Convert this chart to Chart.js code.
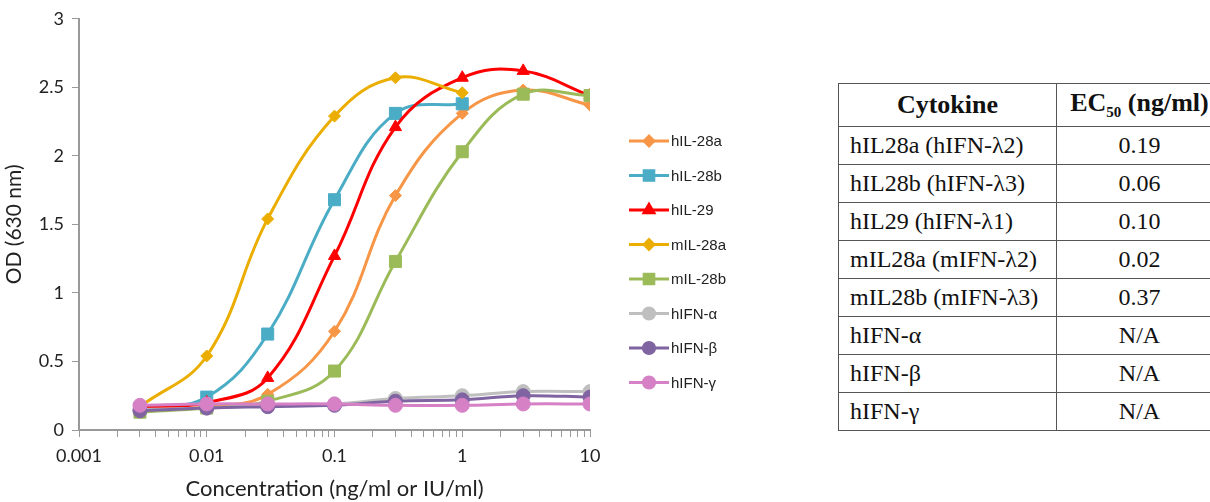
<!DOCTYPE html>
<html>
<head>
<meta charset="utf-8">
<script src="https://cdn.jsdelivr.net/npm/chart.js@4/dist/chart.umd.min.js"></script>
<style>
  html, body { margin: 0; padding: 0; background: #fff; overflow: hidden; }
  #wrap { position: relative; width: 1210px; height: 502px; overflow: hidden; }
  #chartBox { position: absolute; left: 0; top: 0; width: 780px; height: 502px; }
  #tabla { position: absolute; left: 838px; top: 83px; border-collapse: collapse;
           table-layout: fixed; width: 384px;
           font-family: "Liberation Serif", "Times New Roman", serif; color: #111; }
  #tabla td, #tabla th { border: 1px solid #555; height: 38px; padding: 0; box-sizing: border-box; white-space: nowrap; }
  #tabla th { height: 43px; font-size: 26px; font-weight: bold; text-align: center; }
  #tabla td { font-size: 24px; }
  #tabla td.nombre { padding-left: 11px; text-align: left; }
  #tabla td.valor { text-align: center; }
  #tabla sub { font-size: 15px; }
</style>
</head>
<body>
<div id="wrap">
  <div id="chartBox"><canvas id="graficoOD"></canvas></div>
  <table id="tabla"></table>
</div>
<script>
// Datos
const concentraciones = [0.003, 0.01, 0.03, 0.1, 0.3, 1, 3, 10];
const xDecadas = [0.001, 0.01, 0.1, 1, 10];
const etiquetasX = ['0.001', '0.01', '0.1', '1', '10'];

const nombresSeries = ['hIL-28a', 'hIL-28b', 'hIL-29', 'mIL-28a', 'mIL-28b', 'hIFN-α', 'hIFN-β', 'hIFN-γ'];
const hIL28a = [0.15, 0.17, 0.26, 0.72, 1.71, 2.31, 2.48, 2.37];
const hIL28b = [0.16, 0.24, 0.70, 1.68, 2.31, 2.38];
const hIL29  = [0.16, 0.20, 0.38, 1.27, 2.21, 2.57, 2.62, 2.44];
const mIL28a = [0.17, 0.54, 1.54, 2.29, 2.57, 2.46];
const mIL28b = [0.13, 0.16, 0.21, 0.43, 1.23, 2.03, 2.45, 2.44];
const hIFNa  = [0.15, 0.16, 0.18, 0.19, 0.23, 0.25, 0.28, 0.28];
const hIFNb  = [0.14, 0.16, 0.17, 0.18, 0.21, 0.22, 0.25, 0.24];
const hIFNg  = [0.18, 0.19, 0.19, 0.19, 0.18, 0.18, 0.19, 0.19];

// Tabla EC50
const citoquinas = ['hIL28a (hIFN-λ2)', 'hIL28b (hIFN-λ3)', 'hIL29 (hIFN-λ1)', 'mIL28a (mIFN-λ2)',
                    'mIL28b (mIFN-λ3)', 'hIFN-α', 'hIFN-β', 'hIFN-γ'];
const ec50 = ['0.19', '0.06', '0.10', '0.02', '0.37', 'N/A', 'N/A', 'N/A'];

// Estilos por serie
const colores = ['#F79646', '#4BACC6', '#FF0000', '#EBAE00', '#9BBB59', '#BFBFBF', '#8064A2', '#D680C6'];
const marcadores = ['rectRot', 'rect', 'triangle', 'rectRot', 'rect', 'circle', 'circle', 'circle'];
const radios = [6, 8.5, 7, 6, 8.5, 7, 7, 7];
const valoresSeries = [hIL28a, hIL28b, hIL29, mIL28a, mIL28b, hIFNa, hIFNb, hIFNg];

Chart.defaults.font.family = 'Lato, "Open Sans", sans-serif';

function construirTabla() {
    let html = '<colgroup><col style="width:218px"><col style="width:166px"></colgroup>';
    html += '<tr><th>Cytokine</th><th>EC<sub>50</sub> (ng/ml)</th></tr>';
    citoquinas.forEach((c, i) => {
        html += `<tr><td class="nombre">${c}</td><td class="valor">${ec50[i]}</td></tr>`;
    });
    document.getElementById('tabla').innerHTML = html;
}

// Leyenda tipo Excel: línea con marcador en el centro
const leyendaExcel = {
    id: 'leyendaExcel',
    afterDraw(chart) {
        const ctx = chart.ctx;
        const x0 = 629, x1 = 669, yIni = 141, paso = 34.5;
        chart.data.datasets.forEach((ds, i) => {
            const y = yIni + i * paso;
            ctx.save();
            ctx.strokeStyle = ds.borderColor;
            ctx.lineWidth = 3;
            ctx.beginPath();
            ctx.moveTo(x0, y);
            ctx.lineTo(x1, y);
            ctx.stroke();
            ctx.fillStyle = ds.pointBackgroundColor;
            ctx.strokeStyle = ds.pointBorderColor;
            Chart.helpers.drawPoint(ctx, {
                pointStyle: ds.pointStyle,
                radius: ds.pointRadius * 0.8,
                rotation: 0,
                borderWidth: 1
            }, (x0 + x1) / 2, y);
            ctx.fillStyle = '#222';
            ctx.font = '15px "Liberation Sans", Arial, sans-serif';
            ctx.textBaseline = 'middle';
            ctx.fillText(ds.label, x1 + 2, y + 1);
            ctx.restore();
        });
    }
};

function generarGrafico() {
    const datasets = valoresSeries.map((vals, i) => ({
        label: nombresSeries[i],
        data: vals.map((v, j) => ({ x: concentraciones[j], y: v })),
        borderColor: colores[i],
        backgroundColor: colores[i],
        pointBackgroundColor: colores[i],
        pointBorderColor: colores[i],
        pointStyle: marcadores[i],
        pointRadius: radios[i],
        pointBorderWidth: 1,
        borderWidth: 3,
        tension: 0.4,
        order: valoresSeries.length - i // la última serie queda encima, como en Excel
    }));

    const ctx = document.getElementById('graficoOD').getContext('2d');
    new Chart(ctx, {
        type: 'line',
        data: { datasets: datasets },
        options: {
            responsive: true,
            maintainAspectRatio: false,
            animation: false,
            layout: { padding: { left: 0, right: 190, top: 15, bottom: 0 } },
            plugins: {
                legend: { display: false },
                tooltip: { enabled: false }
            },
            scales: {
                x: {
                    type: 'logarithmic',
                    min: xDecadas[0],
                    max: xDecadas[xDecadas.length - 1],
                    afterBuildTicks: (scale) => {
                        const ticks = [];
                        for (let d = 0; d < xDecadas.length - 1; d++) {
                            for (let k = 1; k <= 9; k++) {
                                ticks.push({ value: +(xDecadas[d] * k).toPrecision(6) });
                            }
                        }
                        ticks.push({ value: xDecadas[xDecadas.length - 1] });
                        scale.ticks = ticks;
                    },
                    afterFit: (scale) => { scale.height = 72; },
                    ticks: {
                        autoSkip: false,
                        maxRotation: 0,
                        color: '#222',
                        font: { size: 18 },
                        padding: 8,
                        callback: function (value) {
                            const idx = xDecadas.findIndex(d => Math.abs(d - value) / d < 1e-6);
                            return idx >= 0 ? etiquetasX[idx] : '';
                        }
                    },
                    grid: { drawOnChartArea: false, color: '#999', tickLength: 7 },
                    border: { color: '#999', width: 2 },
                    title: {
                        display: true,
                        text: 'Concentration (ng/ml or IU/ml)',
                        color: '#222',
                        font: { size: 22 },
                        padding: { top: 2, bottom: 0 }
                    }
                },
                y: {
                    min: 0,
                    max: 3,
                    afterFit: (scale) => { scale.width = 79; },
                    ticks: {
                        stepSize: 0.5,
                        color: '#222',
                        font: { size: 18 },
                        padding: 8,
                        callback: (value) => String(value)
                    },
                    grid: { drawOnChartArea: false, color: '#999', tickLength: 7 },
                    border: { color: '#999', width: 2 },
                    title: {
                        display: true,
                        text: 'OD (630 nm)',
                        color: '#222',
                        font: { size: 21 },
                        padding: { top: 2, bottom: 2 }
                    }
                }
            }
        },
        plugins: [leyendaExcel]
    });
}

construirTabla();
generarGrafico();
</script>
</body>
</html>
